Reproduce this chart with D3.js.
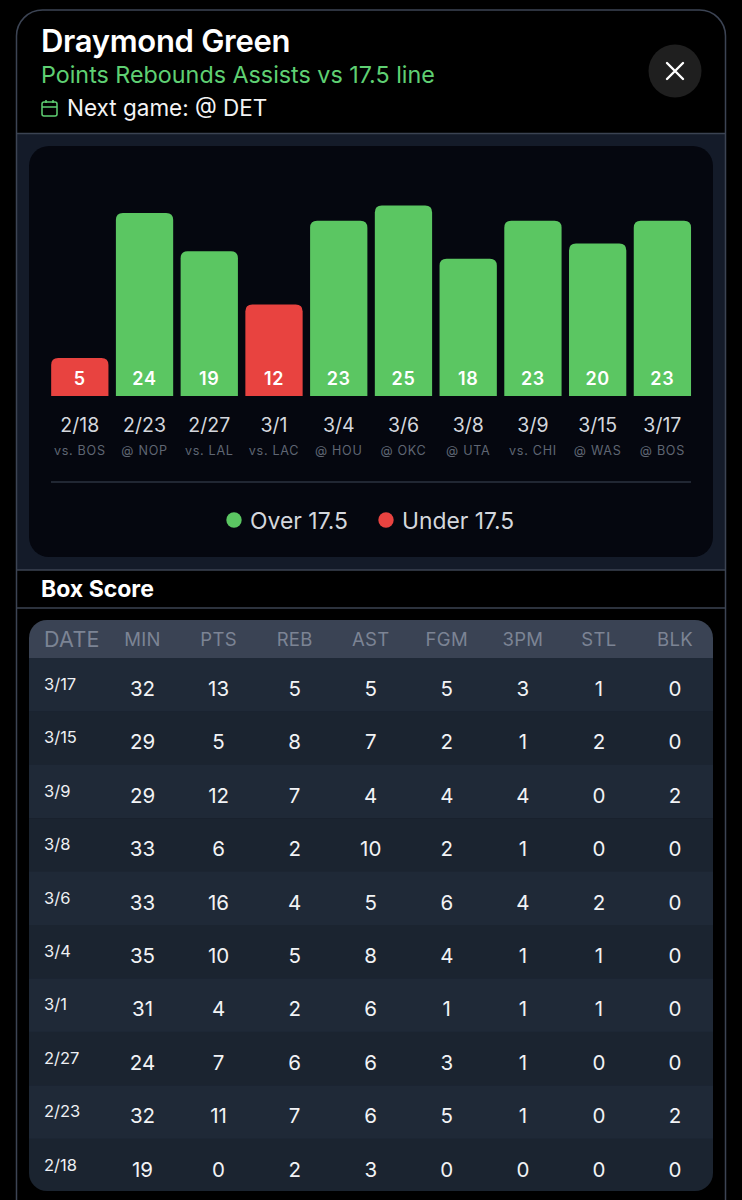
<!DOCTYPE html>
<html><head><meta charset="utf-8">
<script src="https://cdnjs.cloudflare.com/ajax/libs/d3/7.8.5/d3.min.js"></script>
<style>html,body{margin:0;padding:0;background:#000}svg{display:block;font-family:Inter,Roboto,sans-serif}</style>
</head><body><div id="c"></div>
<script>
const dates=["2/18","2/23","2/27","3/1","3/4","3/6","3/8","3/9","3/15","3/17"];
const opponents=["vs. BOS","@ NOP","vs. LAL","vs. LAC","@ HOU","@ OKC","@ UTA","vs. CHI","@ WAS","@ BOS"];
const pra=[5,24,19,12,23,25,18,23,20,23];
const line=17.5;
const columns=["MIN","PTS","REB","AST","FGM","3PM","STL","BLK"];
const rowDates=["3/17","3/15","3/9","3/8","3/6","3/4","3/1","2/27","2/23","2/18"];
const minutes=[32,29,29,33,33,35,31,24,32,19];
const points=[13,5,12,6,16,10,4,7,11,0];
const rebounds=[5,8,7,2,4,5,2,6,7,2];
const assists=[5,7,4,10,5,8,6,6,6,3];
const fgm=[5,2,4,2,6,4,1,3,5,0];
const threes=[3,1,4,1,4,1,1,1,1,0];
const steals=[1,2,0,0,2,1,1,0,0,0];
const blocks=[0,0,2,0,0,0,0,0,2,0];
const tableCols=[minutes,points,rebounds,assists,fgm,threes,steals,blocks];

const GREEN="#5bc662",RED="#e84340";
const svg=d3.select("#c").append("svg").attr("width",742).attr("height",1200).attr("viewBox","0 0 742 1200");
const t=(x,y,s,size,fill,weight,anchor,ls)=>svg.append("text").attr("x",x).attr("y",y).text(s)
  .attr("font-size",size).attr("fill",fill).attr("font-weight",weight||400).attr("text-anchor",anchor||"start").attr("letter-spacing",ls||0);
const r=(x,y,w,h,fill,rx)=>svg.append("rect").attr("x",x).attr("y",y).attr("width",w).attr("height",h).attr("fill",fill).attr("rx",rx||0);

svg.append("rect").attr("width",742).attr("height",1200).attr("fill","#000");
const clip=svg.append("defs");
clip.append("clipPath").attr("id","card").append("rect").attr("x",16).attr("y",10).attr("width",710).attr("height",1240).attr("rx",26);
clip.append("clipPath").attr("id","tbl").append("rect").attr("x",29).attr("y",620).attr("width",684).attr("height",571).attr("rx",18);

// Card sections
const card=svg.append("g").attr("clip-path","url(#card)");
card.append("rect").attr("x",16).attr("y",133).attr("width",710).attr("height",437).attr("fill","#141b29");
svg.append("rect").attr("x",16.5).attr("y",10).attr("width",709).attr("height",1240).attr("rx",26).attr("fill","none").attr("stroke","#3c4454").attr("stroke-width",1.5);
[133.5,570,608].forEach(y=>svg.append("line").attr("x1",17).attr("x2",725).attr("y1",y).attr("y2",y).attr("stroke","#3b4352").attr("stroke-width",1.5));

// Header
t(41,52,"Draymond Green",31,"#fff",600,"start",-0.3);
t(41,83,"Points Rebounds Assists vs 17.5 line",23.3,"#5fd073",400);
t(67,116,"Next game: @ DET",22.5,"#f4f4f4",400);
const cal=svg.append("g").attr("fill","none").attr("stroke","#5fd073").attr("stroke-width",1.5);
cal.append("rect").attr("x",42).attr("y",102).attr("width",15).attr("height",14).attr("rx",2);
cal.append("line").attr("x1",42).attr("x2",57).attr("y1",107).attr("y2",107);
cal.append("line").attr("x1",46).attr("x2",46).attr("y1",100).attr("y2",103);
cal.append("line").attr("x1",53).attr("x2",53).attr("y1",100).attr("y2",103);
svg.append("circle").attr("cx",675).attr("cy",71).attr("r",26.5).attr("fill","#1f1f1f");
svg.append("path").attr("d","M667 63L683 79M683 63L667 79").attr("stroke","#fff").attr("stroke-width",2.4).attr("stroke-linecap","round");

// Chart panel
r(29,146,684,411,"#05070f",20);
const x=d3.scaleBand().domain(dates).range([47.6,694.6]).paddingInner(0.115).paddingOuter(0.055);
const y=d3.scaleLinear().domain([0,25]).range([396,205.5]);
const bars=svg.append("g");
const barPath=(d,i)=>{const a=x(dates[i]),w=x.bandwidth(),b=y(0),c=y(d),q=7;
  return `M${a} ${b}V${c+q}Q${a} ${c} ${a+q} ${c}H${a+w-q}Q${a+w} ${c} ${a+w} ${c+q}V${b}Z`;};
bars.selectAll("path").data(pra).join("path").attr("d",barPath).attr("fill",d=>d>line?GREEN:RED);
const cx=i=>x(dates[i])+x.bandwidth()/2;
bars.selectAll("text.v").data(pra).join("text").attr("class","v").attr("x",(d,i)=>cx(i)).attr("y",384.5)
  .attr("text-anchor","middle").attr("font-size",18).attr("font-weight",600).attr("fill","#fff").attr("letter-spacing",0.7).text(d=>d);
bars.selectAll("text.d").data(dates).join("text").attr("class","d").attr("x",(d,i)=>cx(i)).attr("y",432)
  .attr("text-anchor","middle").attr("font-size",19.5).attr("fill","#d4d7dd").text(d=>d);
bars.selectAll("text.o").data(opponents).join("text").attr("class","o").attr("x",(d,i)=>cx(i)).attr("y",455)
  .attr("text-anchor","middle").attr("font-size",12.6).attr("letter-spacing",0.7).attr("fill","#5f6673").text(d=>d);
svg.append("line").attr("x1",51).attr("x2",691).attr("y1",482).attr("y2",482).attr("stroke","#2b3340").attr("stroke-width",1.5);
svg.append("circle").attr("cx",234).attr("cy",520).attr("r",7.7).attr("fill",GREEN);
t(250,529,"Over 17.5",22.9,"#d4d7dd");
svg.append("circle").attr("cx",386).attr("cy",520).attr("r",7.7).attr("fill",RED);
t(402,529,"Under 17.5",22.8,"#d4d7dd");

// Box score
t(41,597,"Box Score",23,"#fff",700);
const tbl=svg.append("g").attr("clip-path","url(#tbl)");
tbl.append("rect").attr("x",29).attr("y",620).attr("width",684).attr("height",38).attr("fill","#3a4354");
const ry=d3.scaleBand().domain(rowDates).range([658,1192]);
const cxs=d3.scalePoint().domain(columns).range([142.5,675]);
tbl.selectAll("rect.row").data(rowDates).join("rect").attr("class","row").attr("x",29).attr("width",684)
  .attr("y",d=>ry(d)).attr("height",ry.bandwidth()+0.5).attr("fill",(d,i)=>i%2?"#1b2430":"#1f2937");
t(44,647,"DATE",21.5,"#7c8494",400,"start",0.3);
svg.selectAll("text.h").data(columns).join("text").attr("class","h").attr("x",d=>cxs(d)).attr("y",645.5)
  .attr("text-anchor","middle").attr("font-size",18.5).attr("letter-spacing",0.3).attr("fill","#7c8494").text(d=>d);
svg.selectAll("text.rd").data(rowDates).join("text").attr("class","rd").attr("x",44).attr("y",d=>ry(d)+32)
  .attr("font-size",16.5).attr("fill","#eef0f3").text(d=>d);
columns.forEach((c,j)=>{
  svg.append("g").selectAll("text").data(tableCols[j]).join("text").attr("x",cxs(c)).attr("y",(d,i)=>ry(rowDates[i])+38)
    .attr("text-anchor","middle").attr("font-size",20.5).attr("fill","#f2f3f5").text(d=>d);
});
</script></body></html>
